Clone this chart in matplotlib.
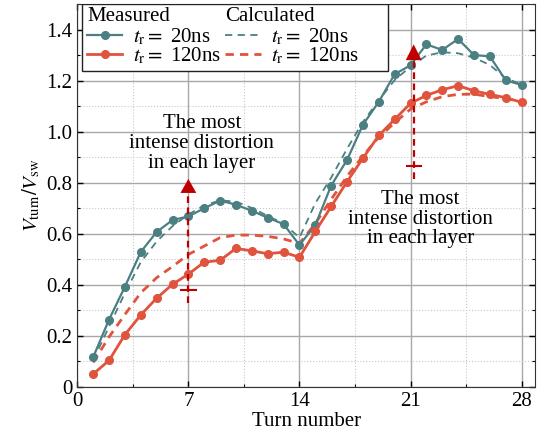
#!/usr/bin/env python

'''
turn voltage distribution along a winding, measured vs calculated
'''

import numpy as np
import matplotlib
matplotlib.use('Agg')
import matplotlib.pyplot as plt
from matplotlib.legend_handler import HandlerBase
from matplotlib.patches import Rectangle
from matplotlib.text import Text
from matplotlib.ticker import MultipleLocator, FuncFormatter

plt.rcParams['font.family'] = ['Liberation Serif', 'DejaVu Serif']
plt.rcParams['mathtext.fontset'] = 'stix'
plt.rcParams['font.size'] = 15

TEAL = '#4b7f82'
RED = '#e0533d'
DARK_RED = '#c00000'
LEGEND_EXTRA_PX = 24     # extra room on the right of the legend box

turns = np.arange(1, 29)

meas_20ns = [0.117, 0.264, 0.393, 0.529, 0.607, 0.654, 0.668, 0.700, 0.730, 0.714,
             0.690, 0.663, 0.638, 0.556, 0.634, 0.789, 0.889, 1.027, 1.117, 1.225,
             1.260, 1.342, 1.320, 1.363, 1.300, 1.295, 1.201, 1.183]
meas_120ns = [0.051, 0.104, 0.205, 0.282, 0.348, 0.402, 0.442, 0.489, 0.496, 0.543,
              0.533, 0.522, 0.528, 0.508, 0.609, 0.707, 0.804, 0.896, 0.985, 1.048,
              1.111, 1.142, 1.164, 1.180, 1.160, 1.146, 1.133, 1.115]
calc_20ns = [0.105, 0.236, 0.368, 0.489, 0.570, 0.630, 0.676, 0.711, 0.731, 0.726,
             0.701, 0.670, 0.640, 0.585, 0.720, 0.820, 0.933, 1.038, 1.123, 1.202,
             1.255, 1.298, 1.311, 1.307, 1.290, 1.261, 1.209, 1.185]
calc_120ns = [0.096, 0.196, 0.284, 0.369, 0.428, 0.472, 0.519, 0.552, 0.585, 0.595,
              0.595, 0.590, 0.580, 0.562, 0.640, 0.735, 0.825, 0.905, 0.978, 1.035,
              1.088, 1.117, 1.137, 1.146, 1.147, 1.137, 1.130, 1.117]

# worst-distortion markers: turn, dashed line bottom, cap bar, arrow base, arrow tip
mark_turns = [7.0, 21.2]
mark_low = [0.33, 0.815]
mark_bar = [0.378, 0.867]
mark_base = [0.76, 1.28]
mark_tip = [0.815, 1.342]
note_text = 'The most\nintense distortion\nin each layer'
note_xy = [(7.85, 0.953), (21.62, 0.657)]


class LegendHeader(object):
    def __init__(self, text):
        self.text = text


class HeaderHandler(HandlerBase):
    '''column title drawn where the line sample would go'''
    def create_artists(self, legend, orig_handle, xdescent, ydescent,
                       width, height, fontsize, trans):
        txt = Text(-xdescent, (height - ydescent) / 2.0, orig_handle.text,
                   fontsize=fontsize, ha='left', va='center', transform=trans)
        return [txt]


fig = plt.figure(figsize=(5.46, 4.43), dpi=100)
ax = fig.add_axes([0.1416, 0.1264, 0.8384, 0.8646])

l_m20, = ax.plot(turns, calc_20ns, color=TEAL, lw=1.3, dashes=(4, 3), zorder=3)
l_m120, = ax.plot(turns, calc_120ns, color=RED, lw=2.0, dashes=(3, 2.2), zorder=3)
p_m20, = ax.plot(turns, meas_20ns, '-o', color=TEAL, lw=1.6, ms=5.5, zorder=4)
p_m120, = ax.plot(turns, meas_120ns, '-o', color=RED, lw=2.0, ms=5.5, zorder=4)

for x, lo, bar, base, tip in zip(mark_turns, mark_low, mark_bar, mark_base, mark_tip):
    ax.plot([x, x], [lo, base], color=DARK_RED, lw=1.6, dashes=(3, 2), zorder=5)
    ax.plot([x - 0.45, x + 0.45], [bar, bar], color=DARK_RED, lw=1.5, zorder=5)
    ax.fill([x - 0.5, x + 0.5, x], [base, base, tip], color=DARK_RED, lw=0, zorder=5)

for x, y in note_xy:
    ax.text(x, y, note_text, ha='center', va='center', linespacing=1.05, zorder=6)

ax.set_xlim(0, 28.85)
ax.set_ylim(0, 1.5)
ax.xaxis.set_major_locator(MultipleLocator(7))
ax.xaxis.set_minor_locator(MultipleLocator(3.5))
ax.yaxis.set_major_locator(MultipleLocator(0.2))
ax.yaxis.set_minor_locator(MultipleLocator(0.1))
ax.yaxis.set_major_formatter(FuncFormatter(lambda v, p: '0' if abs(v) < 1e-9 else '%.1f' % v))
ax.tick_params(which='both', direction='in', top=True, right=True, labelsize=15)
ax.tick_params(which='major', length=4, width=1)
ax.tick_params(which='minor', length=2, width=0.8)
ax.grid(which='major', color='#a8a8a8', lw=1.0)
ax.grid(which='minor', color='#c8c8c8', ls=':', lw=0.8)
ax.set_axisbelow(True)
for sp in ax.spines.values():
    sp.set_color('#333333')

ax.set_xlabel('Turn number', labelpad=1)
ax.set_ylabel(r'$V_\mathrm{turn}/V_\mathrm{sw}$', labelpad=3)

handles = [LegendHeader('Measured'), p_m20, p_m120,
           LegendHeader('Calculated'), l_m20, l_m120]
labels = ['', r'$t_\mathrm{r}=$ 20ns', r'$t_\mathrm{r}=$ 120ns',
          '', r'$t_\mathrm{r}=$ 20ns', r'$t_\mathrm{r}=$ 120ns']
leg = ax.legend(handles, labels, ncol=2, loc='upper left',
                bbox_to_anchor=(0.0096, 1.0), borderaxespad=0,
                handler_map={LegendHeader: HeaderHandler()},
                handlelength=1.7, handletextpad=0.5, columnspacing=0.2,
                labelspacing=-0.1, borderpad=0.25, fontsize=15)
leg.set_zorder(10)
leg.draw_frame(False)

# legend frame drawn by hand so it can be a bit wider than the entries
fig.canvas.draw()
bb = leg.get_window_extent().transformed(fig.transFigure.inverted())
extra = LEGEND_EXTRA_PX / (fig.get_figwidth() * fig.dpi)
frame = Rectangle((bb.x0, bb.y0), bb.width + extra, bb.height,
                  transform=fig.transFigure, facecolor='white',
                  edgecolor='#222222', lw=1.0, zorder=9)
ax.add_patch(frame)

fig.savefig('out.png', dpi=100)
plt.close(fig)
